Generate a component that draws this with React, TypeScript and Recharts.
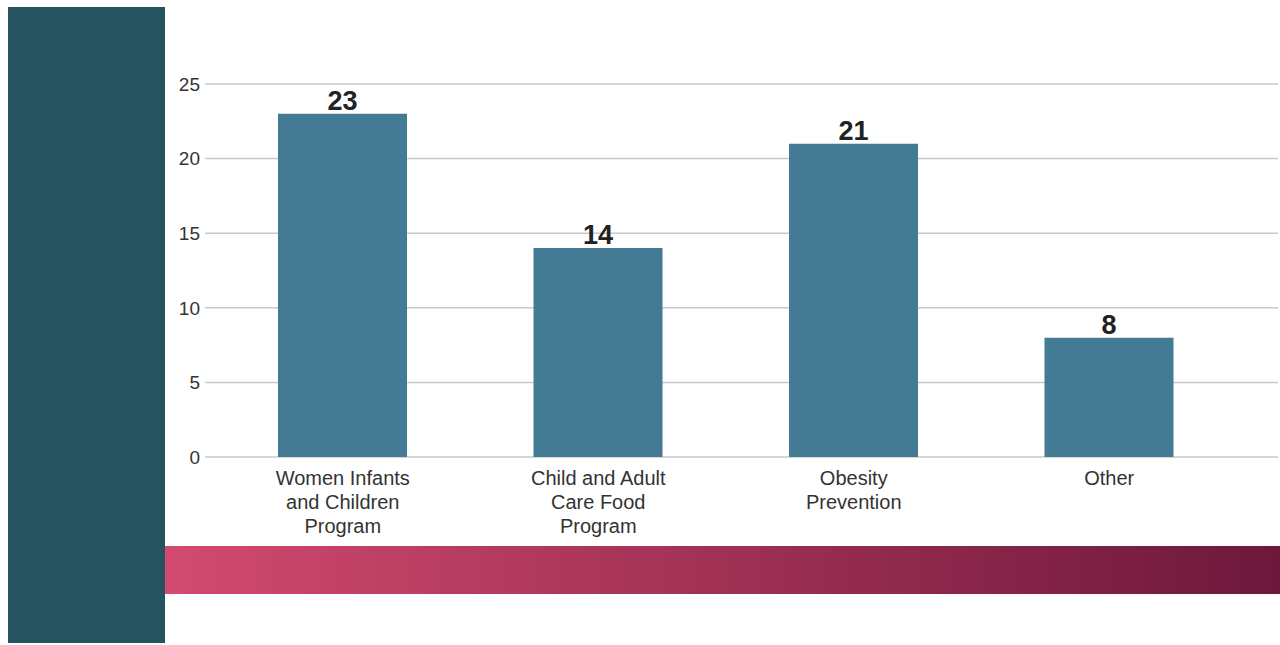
import { Bar, BarChart, CartesianGrid, LabelList, XAxis, YAxis } from "recharts";

const categories = [
  "Women Infants\nand Children\nProgram",
  "Child and Adult\nCare Food\nProgram",
  "Obesity\nPrevention",
  "Other",
];
const counts = [23, 14, 21, 8];
const yTicks = [0, 5, 10, 15, 20, 25];

const data = categories.map((name, i) => ({ name, count: counts[i] }));

const FONT = "'Liberation Sans', Arial, Helvetica, sans-serif";

function CategoryTick(props: any) {
  const { x, y, payload } = props;
  const lines = String(payload.value).split("\n");
  return (
    <text
      x={x}
      y={y}
      textAnchor="middle"
      fill="#333333"
      fontSize={20}
      fontFamily={FONT}
    >
      {lines.map((line, i) => (
        <tspan key={i} x={x} dy={i === 0 ? 26 : 24}>
          {line}
        </tspan>
      ))}
    </text>
  );
}

export default function App() {
  return (
    <div
      style={{
        position: "absolute",
        left: 0,
        top: 0,
        width: 1280,
        height: 645,
        background: "#ffffff",
        overflow: "hidden",
      }}
    >
      <div
        style={{
          position: "absolute",
          left: 8,
          top: 7,
          width: 157,
          height: 636,
          background: "#25535f",
        }}
      />
      <div
        style={{
          position: "absolute",
          left: 165,
          top: 546,
          width: 1115,
          height: 48,
          background: "linear-gradient(to right, #d24a6f, #6d183b)",
        }}
      />
      <div style={{ position: "absolute", left: 0, top: 0 }}>
        <BarChart
          width={1280}
          height={545}
          data={data}
          margin={{ top: 84, right: 2, bottom: 58, left: 160 }}
        >
          <CartesianGrid vertical={false} stroke="#c8c8c8" strokeWidth={1.5} />
          <XAxis
            dataKey="name"
            height={30}
            axisLine={false}
            tickLine={false}
            tickSize={0}
            interval={0}
            padding={{ left: 10, right: 41 }}
            tick={<CategoryTick />}
          />
          <YAxis
            width={45}
            domain={[0, 25]}
            ticks={yTicks}
            axisLine={false}
            tickLine={false}
            tickSize={0}
            tickMargin={5}
            tick={{ fill: "#333333", fontSize: 19, fontFamily: FONT }}
          />
          <Bar dataKey="count" fill="#437b94" barSize={129} isAnimationActive={false}>
            <LabelList
              dataKey="count"
              position="top"
              offset={4}
              fill="#222222"
              fontSize={27}
              fontWeight="bold"
              fontFamily={FONT}
            />
          </Bar>
        </BarChart>
      </div>
    </div>
  );
}
